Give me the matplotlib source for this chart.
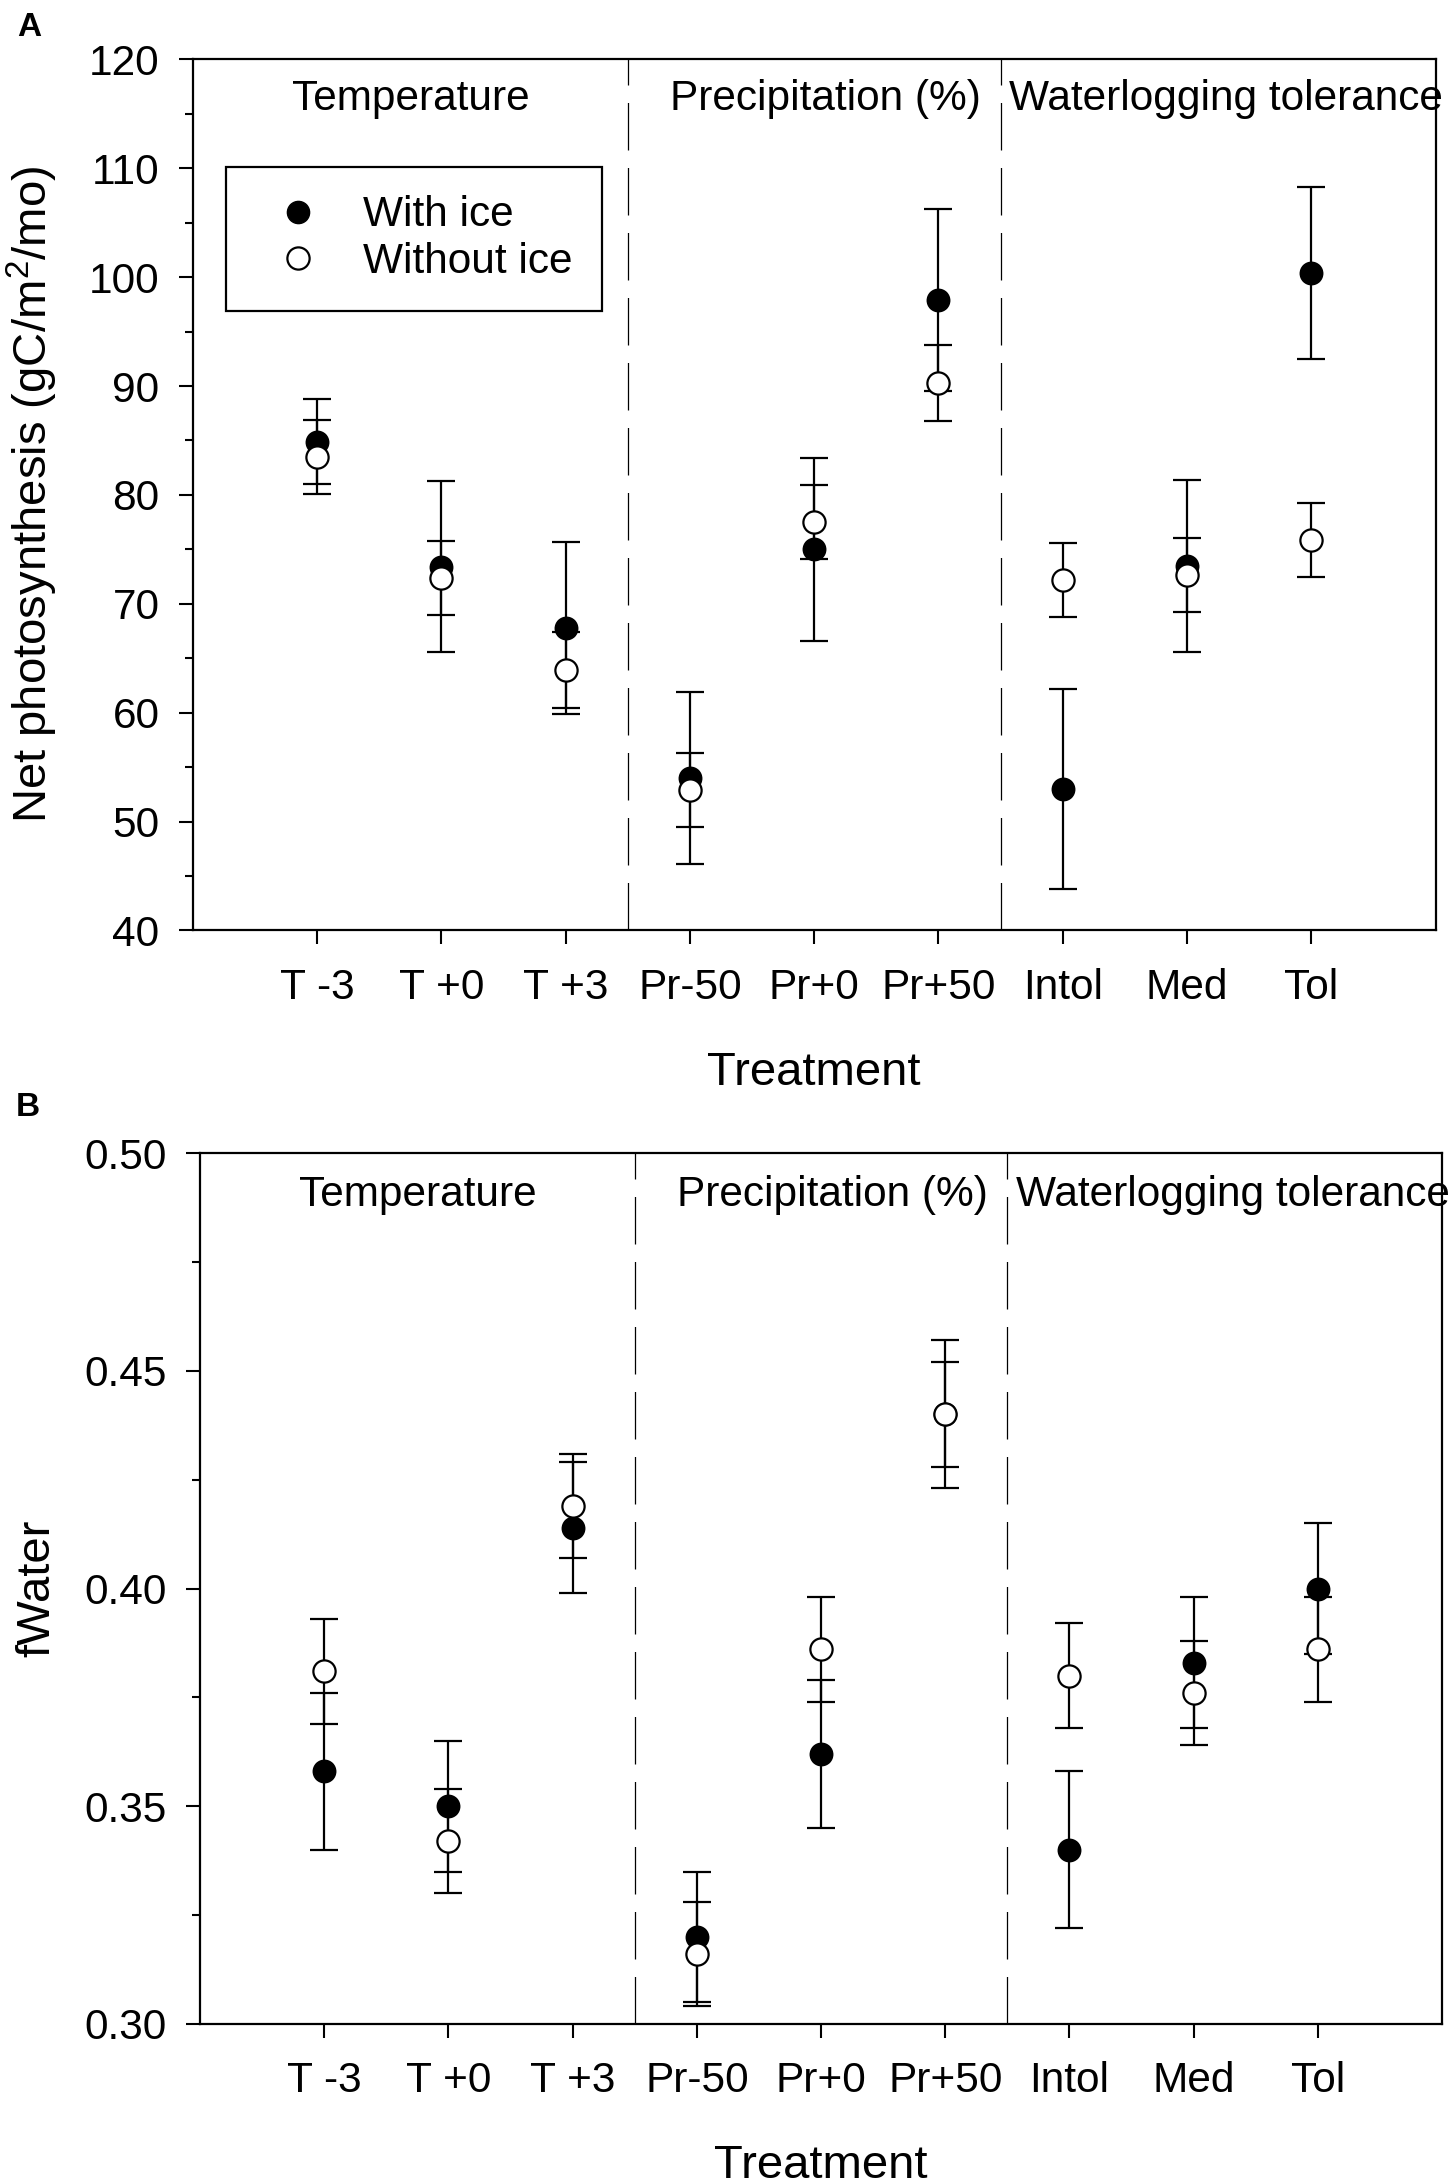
import matplotlib
matplotlib.use("Agg")
import matplotlib.pyplot as plt
from matplotlib.lines import Line2D
from matplotlib.ticker import MultipleLocator, FormatStrFormatter

plt.rcParams['font.family'] = ['Liberation Sans', 'DejaVu Sans']
plt.rcParams['mathtext.default'] = 'regular'

# ---------------- data ----------------
treatments = ["T -3", "T +0", "T +3", "Pr-50", "Pr+0", "Pr+50", "Intol", "Med", "Tol"]
groups = ["Temperature", "Precipitation (%)", "Waterlogging tolerance"]

a_with_ice = [84.9, 73.4, 67.8, 54.0, 75.0, 97.9, 53.0, 73.5, 100.4]
a_with_ice_err = [3.9, 7.85, 7.9, 7.9, 8.4, 8.4, 9.2, 7.9, 7.9]
a_without_ice = [83.5, 72.4, 63.9, 52.9, 77.5, 90.3, 72.2, 72.6, 75.9]
a_without_ice_err = [3.4, 3.4, 3.5, 3.4, 3.4, 3.5, 3.4, 3.4, 3.4]

b_with_ice = [0.358, 0.350, 0.414, 0.320, 0.362, 0.440, 0.340, 0.383, 0.400]
b_with_ice_err = [0.018, 0.015, 0.015, 0.015, 0.017, 0.017, 0.018, 0.015, 0.015]
b_without_ice = [0.381, 0.342, 0.419, 0.316, 0.386, 0.440, 0.380, 0.376, 0.386]
b_without_ice_err = [0.012, 0.012, 0.012, 0.012, 0.012, 0.012, 0.012, 0.012, 0.012]

x = list(range(1, len(treatments) + 1))

fig = plt.figure(figsize=(14.5, 21.84), dpi=100)
axA = fig.add_axes([0.133, 1 - 0.426, 0.990 - 0.133, 0.426 - 0.0272])
axB = fig.add_axes([0.138, 1 - 0.9267, 0.9945 - 0.138, 0.9267 - 0.528])

TXT = 30.5
LBL = 34


def draw(ax, wi, wie, wo, woe, ylim, major, minor, fmt, header_y, ylabel, ylabel_x):
    eb = dict(fmt='none', ecolor='black', elinewidth=1.6, capsize=10, capthick=1.6, zorder=2)
    ax.errorbar(x, wi, yerr=wie, **eb)
    ax.errorbar(x, wo, yerr=woe, **eb)
    ax.plot(x, wi, 'o', ms=16, mfc='black', mec='black', mew=1.2, ls='none', zorder=3)
    ax.plot(x, wo, 'o', ms=16, mfc='white', mec='black', mew=1.6, ls='none', zorder=4)
    for xv in (3.5, 6.5):
        ax.axvline(xv, color='black', lw=0.9, ls=(0, (38, 14)), zorder=1)
    ax.set_xlim(0, 10)
    ax.set_ylim(*ylim)
    ax.set_xticks(x)
    ax.set_xticklabels(treatments)
    ax.yaxis.set_major_locator(MultipleLocator(major))
    ax.yaxis.set_minor_locator(MultipleLocator(minor))
    ax.yaxis.set_major_formatter(FormatStrFormatter(fmt))
    ax.tick_params(axis='both', which='major', direction='out', length=10, width=1.5,
                   labelsize=TXT, pad=14, top=False, right=False)
    ax.tick_params(axis='x', which='major', pad=17)
    ax.tick_params(axis='y', which='minor', direction='out', length=6, width=1.5,
                   left=True, right=False)
    ax.tick_params(axis='x', which='minor', bottom=False, top=False)
    for s in ax.spines.values():
        s.set_linewidth(1.6)
    ax.set_xlabel("Treatment", fontsize=LBL)
    ax.xaxis.set_label_coords(0.5, -0.138)
    ax.set_ylabel(ylabel, fontsize=LBL)
    ax.yaxis.set_label_coords(ylabel_x, 0.5)
    for gx, g in zip((0.80, 3.84, 6.57), groups):
        ax.text(gx, header_y, g, fontsize=TXT, ha='left', va='center')


draw(axA, a_with_ice, a_with_ice_err, a_without_ice, a_without_ice_err,
     (40, 120), 10, 5, '%d', 116.4, r"Net photosynthesis (gC/m$^{2}$/mo)", -0.107)
draw(axB, b_with_ice, b_with_ice_err, b_without_ice, b_without_ice_err,
     (0.30, 0.50), 0.05, 0.025, '%.2f', 0.4905, "fWater", -0.1135)

handles = [
    Line2D([], [], marker='o', ls='none', ms=16, mfc='black', mec='black'),
    Line2D([], [], marker='o', ls='none', ms=16, mfc='white', mec='black', mew=1.6),
]
leg = axA.legend(handles, ["With ice", "Without ice"], loc='upper left',
                 bbox_to_anchor=(0.027, 0.877), borderaxespad=0, fontsize=TXT,
                 fancybox=False, edgecolor='black', framealpha=1,
                 borderpad=0.68, labelspacing=0.15, handlelength=2.0, handletextpad=0.55)
leg.get_frame().set_linewidth(1.6)

fig.text(17 / 1450, 1 - 27 / 2184, "A", fontsize=24, fontweight='bold', ha='left', va='center')
fig.text(16 / 1450, 1 - 1108 / 2184, "B", fontsize=24, fontweight='bold', ha='left', va='center')

fig.savefig("out.png", dpi=100)
